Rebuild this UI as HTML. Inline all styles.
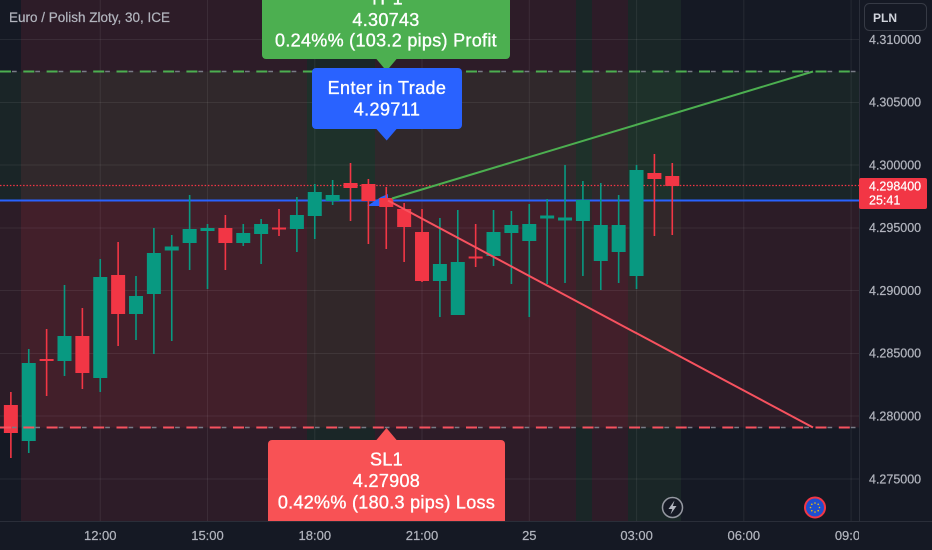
<!DOCTYPE html>
<html>
<head>
<meta charset="utf-8">
<style>
  html,body{margin:0;padding:0;background:#151924;}
  body{width:932px;height:550px;overflow:hidden;}
  svg{display:block;}
  text{font-family:"Liberation Sans",sans-serif;}
</style>
</head>
<body>
<svg width="932" height="550" viewBox="0 0 932 550" xmlns="http://www.w3.org/2000/svg">
  <defs>
    <clipPath id="chart"><rect x="0" y="0" width="859" height="521"/></clipPath>
    <clipPath id="taxis"><rect x="0" y="521" width="859" height="29"/></clipPath>
  </defs>
  <rect x="0" y="0" width="932" height="550" fill="#151924"/>

  <g clip-path="url(#chart)">
    <!-- session bands -->
    <rect x="21" y="0" width="286" height="521" fill="rgba(242,54,69,0.11)"/>
    <rect x="307" y="0" width="68" height="521" fill="rgba(76,175,80,0.09)"/>
    <rect x="375" y="0" width="201" height="521" fill="rgba(242,54,69,0.11)"/>
    <rect x="576" y="0" width="16" height="521" fill="rgba(76,175,80,0.09)"/>
    <rect x="592" y="0" width="36" height="521" fill="rgba(242,54,69,0.11)"/>
    <rect x="628" y="0" width="53" height="521" fill="rgba(76,175,80,0.09)"/>

    <!-- position zones -->
    <rect x="0" y="71.5" width="859" height="129" fill="rgba(76,175,80,0.085)"/>
    <rect x="0" y="200.5" width="859" height="227" fill="rgba(242,54,69,0.105)"/>

    <!-- grid -->
    <g stroke="rgba(255,255,255,0.07)" stroke-width="1">
      <line x1="100.25" y1="0" x2="100.25" y2="521"/>
      <line x1="207.5" y1="0" x2="207.5" y2="521"/>
      <line x1="314.8" y1="0" x2="314.8" y2="521"/>
      <line x1="422" y1="0" x2="422" y2="521"/>
      <line x1="529.3" y1="0" x2="529.3" y2="521"/>
      <line x1="636.6" y1="0" x2="636.6" y2="521"/>
      <line x1="743.8" y1="0" x2="743.8" y2="521"/>
      <line x1="851.1" y1="0" x2="851.1" y2="521"/>
      <line x1="0" y1="39.5" x2="859" y2="39.5"/>
      <line x1="0" y1="102.5" x2="859" y2="102.5"/>
      <line x1="0" y1="165" x2="859" y2="165"/>
      <line x1="0" y1="228" x2="859" y2="228"/>
      <line x1="0" y1="290.5" x2="859" y2="290.5"/>
      <line x1="0" y1="353.5" x2="859" y2="353.5"/>
      <line x1="0" y1="416" x2="859" y2="416"/>
      <line x1="0" y1="479" x2="859" y2="479"/>
    </g>

    <!-- current price dotted line -->
    <line x1="0" y1="185.5" x2="859" y2="185.5" stroke="#f23645" stroke-width="1.2" stroke-dasharray="1.5 1.8"/>

    <!-- entry line -->
    <line x1="0" y1="200.5" x2="859" y2="200.5" stroke="#2962ff" stroke-width="2"/>
    <polygon points="367,206 381,197 388,194 388,206" fill="#2962ff"/>

    <!-- candles -->
    <g fill="#f23645">
      <rect x="10.07" y="392" width="1.6" height="66"/><rect x="3.87" y="405" width="14" height="28"/>
      <rect x="45.82" y="329" width="1.6" height="67"/><rect x="39.62" y="359" width="14" height="2"/>
      <rect x="81.57" y="308" width="1.6" height="81"/><rect x="75.37" y="336" width="14" height="37"/>
      <rect x="117.33" y="242" width="1.6" height="104"/><rect x="111.13" y="275" width="14" height="39"/>
      <rect x="224.58" y="215" width="1.6" height="55"/><rect x="218.38" y="228" width="14" height="15"/>
      <rect x="278.21" y="209" width="1.6" height="27"/><rect x="272.01" y="227.5" width="14" height="2"/>
      <rect x="349.71" y="163" width="1.6" height="58"/><rect x="343.51" y="183" width="14" height="5"/>
      <rect x="367.59" y="179" width="1.6" height="65"/><rect x="361.39" y="184" width="14" height="17"/>
      <rect x="385.47" y="187" width="1.6" height="62"/><rect x="379.27" y="198" width="14" height="9"/>
      <rect x="403.34" y="203" width="1.6" height="59"/><rect x="397.14" y="209" width="14" height="18"/>
      <rect x="421.22" y="209" width="1.6" height="73"/><rect x="415.02" y="232" width="14" height="49"/>
      <rect x="474.85" y="224" width="1.6" height="43"/><rect x="468.65" y="256.5" width="14" height="2"/>
      <rect x="653.61" y="154" width="1.6" height="82"/><rect x="647.41" y="173" width="14" height="6"/>
      <rect x="671.48" y="163" width="1.6" height="72"/><rect x="665.28" y="176" width="14" height="10"/>
    </g>
    <g fill="#089981">
      <rect x="27.95" y="349" width="1.6" height="104"/><rect x="21.75" y="363" width="14" height="78"/>
      <rect x="63.7" y="285" width="1.6" height="91"/><rect x="57.5" y="336" width="14" height="25"/>
      <rect x="99.45" y="259" width="1.6" height="133"/><rect x="93.25" y="277" width="14" height="101"/>
      <rect x="135.2" y="276" width="1.6" height="64"/><rect x="129" y="296" width="14" height="18"/>
      <rect x="153.08" y="228" width="1.6" height="126"/><rect x="146.88" y="253" width="14" height="41"/>
      <rect x="170.95" y="235" width="1.6" height="106"/><rect x="164.75" y="246.5" width="14" height="4"/>
      <rect x="188.83" y="195" width="1.6" height="75"/><rect x="182.63" y="229" width="14" height="14"/>
      <rect x="206.71" y="224" width="1.6" height="65"/><rect x="200.51" y="228" width="14" height="3"/>
      <rect x="242.46" y="224" width="1.6" height="22"/><rect x="236.26" y="233" width="14" height="10"/>
      <rect x="260.33" y="219" width="1.6" height="45"/><rect x="254.13" y="224" width="14" height="10"/>
      <rect x="296.09" y="197" width="1.6" height="55"/><rect x="289.89" y="215" width="14" height="14"/>
      <rect x="313.96" y="184" width="1.6" height="55"/><rect x="307.76" y="192" width="14" height="24"/>
      <rect x="331.84" y="180" width="1.6" height="25"/><rect x="325.64" y="195" width="14" height="6"/>
      <rect x="439.09" y="218" width="1.6" height="99"/><rect x="432.89" y="264" width="14" height="17"/>
      <rect x="456.97" y="210" width="1.6" height="105"/><rect x="450.77" y="262" width="14" height="53"/>
      <rect x="492.72" y="210" width="1.6" height="56"/><rect x="486.52" y="232" width="14" height="24"/>
      <rect x="510.6" y="211" width="1.6" height="73"/><rect x="504.4" y="225" width="14" height="8"/>
      <rect x="528.47" y="204" width="1.6" height="113"/><rect x="522.27" y="224" width="14" height="17"/>
      <rect x="546.35" y="199" width="1.6" height="85"/><rect x="540.15" y="215.5" width="14" height="3"/>
      <rect x="564.23" y="165" width="1.6" height="118"/><rect x="558.03" y="217.5" width="14" height="3"/>
      <rect x="582.1" y="181" width="1.6" height="95"/><rect x="575.9" y="200" width="14" height="21"/>
      <rect x="599.98" y="183" width="1.6" height="107"/><rect x="593.78" y="225" width="14" height="36"/>
      <rect x="617.85" y="195" width="1.6" height="88"/><rect x="611.65" y="225" width="14" height="27"/>
      <rect x="635.73" y="165" width="1.6" height="124"/><rect x="629.53" y="170" width="14" height="106"/>
    </g>

    <!-- diagonal target lines -->
    <line x1="392" y1="198.5" x2="813" y2="71.5" stroke="#4caf50" stroke-width="2"/>
    <line x1="388" y1="200.5" x2="813" y2="427.5" stroke="#f7525f" stroke-width="2"/>

    <!-- TP / SL dashed lines -->
    <line x1="0" y1="71.5" x2="859" y2="71.5" stroke="#4caf50" stroke-width="2" stroke-dasharray="11 12.3"/>
    <line x1="0" y1="71.5" x2="859" y2="71.5" stroke="#787b86" stroke-width="1.5" stroke-dasharray="0 12 4.7 6.6"/>
    <line x1="0" y1="427.5" x2="859" y2="427.5" stroke="#f7525f" stroke-width="2" stroke-dasharray="11 12.3"/>
    <line x1="0" y1="427.5" x2="859" y2="427.5" stroke="#787b86" stroke-width="1.5" stroke-dasharray="0 12 4.7 6.6"/>

    <!-- TP box -->
    <rect x="262" y="-22" width="248" height="81" rx="4" fill="#4caf50"/>
    <polygon points="376,58.5 397,58.5 386.5,71" fill="#4caf50"/>
    <g fill="#ffffff" stroke="#ffffff" stroke-width="0.35" font-size="18" text-anchor="middle" letter-spacing="0.3">
      <text x="386" y="4.5">TP1</text>
      <text x="386" y="26">4.30743</text>
      <text x="386" y="46.5">0.24%% (103.2 pips) Profit</text>
    </g>

    <!-- Entry box -->
    <rect x="312" y="68" width="150" height="61" rx="4" fill="#2962ff"/>
    <polygon points="376,128.5 397,128.5 386.7,140.5" fill="#2962ff"/>
    <g fill="#ffffff" stroke="#ffffff" stroke-width="0.35" font-size="18" text-anchor="middle" letter-spacing="0.4">
      <text x="387" y="94">Enter in Trade</text>
      <text x="387" y="115.3">4.29711</text>
    </g>

    <!-- SL box -->
    <polygon points="376,440.5 397,440.5 386.5,428" fill="#f85255"/>
    <rect x="268" y="440" width="237" height="95" rx="4" fill="#f85255"/>
    <g fill="#ffffff" stroke="#ffffff" stroke-width="0.35" font-size="18" text-anchor="middle" letter-spacing="0.3">
      <text x="386.5" y="465.7">SL1</text>
      <text x="386.5" y="487">4.27908</text>
      <text x="386.5" y="508.3">0.42%% (180.3 pips) Loss</text>
    </g>

    <!-- bottom icons -->
    <circle cx="672.5" cy="507.5" r="10" fill="#151924" stroke="#9598a1" stroke-width="1.5"/>
    <path d="M674.5 500.5 L668.5 509 L672.3 509 L670.5 514.5 L676.5 506 L672.8 506 Z" fill="#b2b5be"/>
    <circle cx="815" cy="507.5" r="10" fill="#1f4fd0" stroke="#f23645" stroke-width="2"/>
    <g fill="#f5c400">
      <circle cx="815" cy="503" r="0.8"/><circle cx="819.5" cy="507.5" r="0.8"/>
      <circle cx="815" cy="512" r="0.8"/><circle cx="810.5" cy="507.5" r="0.8"/>
      <circle cx="818.2" cy="504.3" r="0.8"/><circle cx="818.2" cy="510.7" r="0.8"/>
      <circle cx="811.8" cy="504.3" r="0.8"/><circle cx="811.8" cy="510.7" r="0.8"/>
    </g>

    <!-- title -->
    <text x="9" y="22" font-size="13.5" fill="#b2b5be" stroke="#b2b5be" stroke-width="0.2">Euro / Polish Zloty, 30, ICE</text>
  </g>

  <!-- axes separators -->
  <line x1="0" y1="521.5" x2="932" y2="521.5" stroke="#2a2e39" stroke-width="1"/>
  <line x1="859.5" y1="0" x2="859.5" y2="521" stroke="#2a2e39" stroke-width="1"/>

  <!-- time axis labels -->
  <g clip-path="url(#taxis)" font-size="13" fill="#b2b5be" stroke="#b2b5be" stroke-width="0.2" text-anchor="middle">
    <text x="100.25" y="540">12:00</text>
    <text x="207.5" y="540">15:00</text>
    <text x="314.8" y="540">18:00</text>
    <text x="422" y="540">21:00</text>
    <text x="529.3" y="540">25</text>
    <text x="636.6" y="540">03:00</text>
    <text x="743.8" y="540">06:00</text>
    <text x="851.1" y="540">09:00</text>
  </g>

  <!-- price axis labels -->
  <g font-size="12.5" fill="#b2b5be" stroke="#b2b5be" stroke-width="0.2">
    <text x="869" y="44">4.310000</text>
    <text x="869" y="106.5">4.305000</text>
    <text x="869" y="169.3">4.300000</text>
    <text x="869" y="232.1">4.295000</text>
    <text x="869" y="294.9">4.290000</text>
    <text x="869" y="357.7">4.285000</text>
    <text x="869" y="420.5">4.280000</text>
    <text x="869" y="483.3">4.275000</text>
  </g>

  <!-- current price label -->
  <rect x="859" y="178" width="68" height="31" rx="2" fill="#f23645"/>
  <g font-size="12.5" fill="#ffffff" stroke="#ffffff" stroke-width="0.2">
    <text x="869" y="190.7">4.298400</text>
    <text x="869" y="204.3">25:41</text>
  </g>

  <!-- PLN button -->
  <rect x="864.5" y="3.5" width="62" height="27" rx="5" fill="#151924" stroke="#363a45" stroke-width="1"/>
  <text x="873" y="22" font-size="12" font-weight="bold" fill="#d1d4dc">PLN</text>
</svg>
</body>
</html>
